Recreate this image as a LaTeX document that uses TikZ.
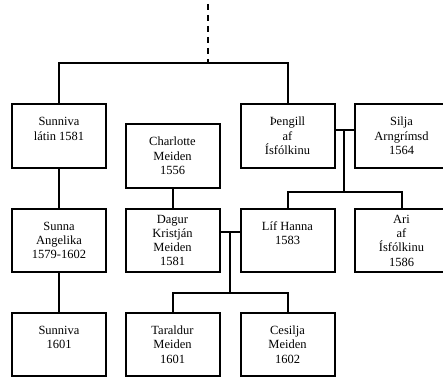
\documentclass[tikz,border=0pt]{standalone}
\usepackage{fontspec}
\setmainfont{Liberation Serif}

\begin{document}
\begin{tikzpicture}[x=1pt,y=-1pt,line width=2pt,
  person/.style={draw,rectangle,minimum width=94pt,minimum height=63pt,inner sep=2pt,
    align=center,font=\fontsize{12.5}{14.3}\selectfont},
  dashline/.style={dash pattern=on 6pt off 5pt}]
\path[use as bounding box,clip] (0,0) rectangle (443,379);

% first row
\node[person] (sunniva) at (59,136) {Sunniva\\látin 1581\\\mbox{}};
\node[person] (charlotte) at (172.5,156) {Charlotte\\Meiden\\1556};
\node[person] (thengill) at (287.5,136) {Þengill\\af\\Ísfólkinu};
\node[person] (silja) at (401.5,136) {Silja\\Arngrímsd\\1564};

% second row
\node[person] (sunna) at (59,240.5) {Sunna\\Angelika\\1579-1602};
\node[person] (dagur) at (172.5,240.5) {Dagur\\Kristján\\Meiden\\1581};
\node[person] (lif) at (287.5,240.5) {Líf Hanna\\1583\\\mbox{}};
\node[person] (ari) at (401.5,240.5) {Ari\\af\\Ísfólkinu\\1586};

% third row
\node[person] (sunniva2) at (59,344.5) {Sunniva\\1601\\\mbox{}};
\node[person] (taraldur) at (172.5,344.5) {Taraldur\\Meiden\\1601};
\node[person] (cesilja) at (287.5,344.5) {Cesilja\\Meiden\\1602};

% lines
\coordinate (top) at (208,4);
\coordinate (fork) at (208,63);
\draw[dashline] (top) -- (fork);
\draw (sunniva.north) |- (fork) -| (thengill.north);

\coordinate (m1) at (344,130);
\coordinate (k1) at (344,192);
\draw (thengill.east |- m1) -- (silja.west |- m1);
\draw (m1) -- (k1);
\draw (lif.north) |- (k1) -| (ari.north);

\coordinate (m2) at (230,232);
\coordinate (k2) at (230,293);
\draw (dagur.east |- m2) -- (lif.west |- m2);
\draw (m2) -- (k2);
\draw (taraldur.north) |- (k2) -| (cesilja.north);

\draw (sunniva.south) -- (sunna.north);
\draw (sunna.south) -- (sunniva2.north);
\draw (charlotte.south) -- (dagur.north);
\end{tikzpicture}
\end{document}
